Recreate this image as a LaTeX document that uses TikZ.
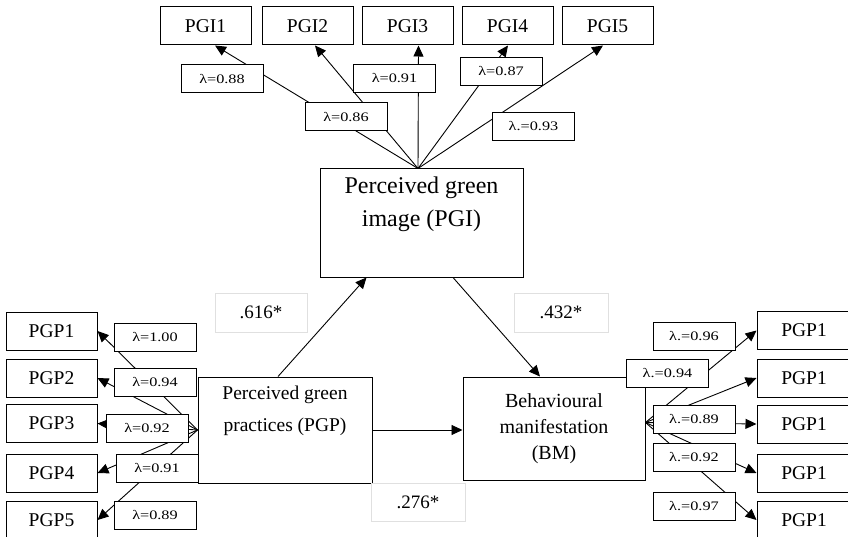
\documentclass[tikz,border=0pt]{standalone}
\usepackage{fontspec}
\setmainfont{Liberation Serif}
\newfontfamily\lamfont[FakeStretch=1.25]{Liberation Serif}
\usetikzlibrary{arrows.meta}

\begin{document}
\begin{tikzpicture}[x=1pt, y=-1pt,
  indicator/.style={draw, line width=1pt, minimum width=91pt, minimum height=38pt, inner sep=0pt, font=\fontsize{19.5}{22}\selectfont},
  loading/.style={draw, fill=white, line width=1pt, minimum width=82pt, minimum height=28pt, inner sep=0pt, font=\lamfont\fontsize{13}{15}\selectfont},
  latent/.style={draw, line width=1pt, align=center, inner sep=0pt},
  coef/.style={draw=black!12, line width=0.8pt, inner sep=0pt, minimum height=39pt, font=\fontsize{19}{22}\selectfont},
  link/.style={line width=0.9pt, -{Triangle[length=11pt, width=10pt]}}]
  \useasboundingbox (0,0) rectangle (848,537);
  % Latent constructs
  \node[latent, minimum width=203pt, minimum height=108pt, font=\fontsize{24}{33}\selectfont]
    (pgi) at (421.5,223) {Perceived green\\image (PGI)\\\strut};
  \node[latent, minimum width=174pt, minimum height=106pt, font=\fontsize{19.5}{32}\selectfont]
    (pgp) at (285,430) {Perceived green\\practices (PGP)\\\strut};
  \node[latent, minimum width=182pt, minimum height=103pt, font=\fontsize{20}{26}\selectfont]
    (bm) at (554,428.5) {Behavioural\\manifestation\\(BM)};
  % Indicators
  \foreach \i/\x in {1/205.5, 2/307.5, 3/407.5, 4/507.5, 5/607.5}
    \node[indicator] (pgi\i) at (\x,26) {PGI\i};
  \foreach \i/\y in {1/331, 2/378, 3/423.5, 4/473, 5/520}
    \node[indicator] (pgp\i) at (51.5,\y) {PGP\i};
  \foreach \i/\y in {1/330.5, 2/378, 3/424, 4/473, 5/520}
    \node[indicator, minimum width=94pt] (bm\i) at (804,\y) {PGP1};
  % Loadings
  \foreach \i/\dx in {1/9.5, 2/7.5, 3/11, 4/0.5, 5/-4.5}
    \draw[link] ([xshift=-3.5pt]pgi.north) -- ([xshift=\dx pt]pgi\i.south);
  \foreach \i in {1,...,5}
    \draw[link] (pgp.west) -- (pgp\i.east);
  \foreach \i in {1,...,5}
    \draw[link] ([yshift=6pt]bm.east) -- (bm\i.west);
  % Structural paths
  \draw[link] ([xshift=-7pt]pgp.north) -- ([xshift=-55pt]pgi.south);
  \draw[link] ([xshift=31.5pt]pgi.south) -- ([xshift=-14pt]bm.north);
  \draw[link] (pgp.east) -- (pgp.east -| bm.west);
  % Loading labels
  \foreach \x/\y/\lab [count=\k] in {222/79/{λ=0.88}, 346/117/{λ=0.86}, 394.5/78.5/{λ=0.91},
      501/71.5/{λ=0.87}, 533.5/126.5/{λ.=0.93}}
    \node[loading] (lpgi\k) at (\x,\y) {\lab};
  \foreach \x/\y/\lab [count=\k] in {155/337/1.00, 155/382.5/0.94, 147/428/0.92,
      157/468.5/0.91, 155/515.5/0.89}
    \node[loading] (lpgp\k) at (\x,\y) {λ=\lab};
  \foreach \x/\y/\lab [count=\k] in {694/336.5/0.96, 667.5/373.5/0.94, 694/419/0.89,
      694/457/0.92, 694/506.5/0.97}
    \node[loading] (lbm\k) at (\x,\y) {λ.=\lab};
  % Path coefficients
  \node[coef, minimum width=92pt] (c616) at (261,312.5) {.616*};
  \node[coef, minimum width=94pt] (c432) at (561,312.5) {.432*};
  \node[coef, minimum width=94pt, minimum height=38pt] (c276) at (418,502) {.276*};
\end{tikzpicture}
\end{document}
